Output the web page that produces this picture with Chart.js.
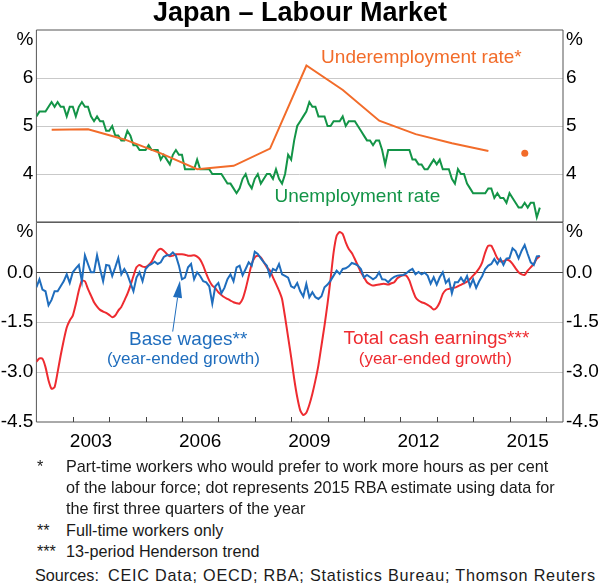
<!DOCTYPE html>
<html>
<head>
<meta charset="utf-8">
<script src="https://cdn.jsdelivr.net/npm/chart.js@4/dist/chart.umd.min.js"></script>
<style>
  body { margin:0; background:#fff; width:600px; height:585px; position:relative; overflow:hidden;
         font-family:"Liberation Sans", Arial, sans-serif; }
  #title { position:absolute; left:0; top:-3px; width:600px; text-align:center; font-weight:bold;
           font-size:27px; color:#000; }
  #c1 { position:absolute; left:0; top:0; }
  #c2 { position:absolute; left:0; top:208px; }
  .fn { position:absolute; font-size:16.2px; color:#1a1a1a; line-height:21px; white-space:nowrap; }
</style>
</head>
<body>
<canvas id="c1" width="600" height="240"></canvas>
<canvas id="c2" width="600" height="254"></canvas>
<div id="title">Japan – Labour Market</div>

<div class="fn" style="left:37px;top:456px;">*</div>
<div class="fn" style="left:66px;top:456px;">Part-time workers who would prefer to work more hours as per cent<br>of the labour force; dot represents 2015 RBA estimate using data for<br>the first three quarters of the year</div>
<div class="fn" style="left:37px;top:520px;">**</div>
<div class="fn" style="left:66px;top:520px;">Full-time workers only</div>
<div class="fn" style="left:37px;top:541px;">***</div>
<div class="fn" style="left:66px;top:541px;">13-period Henderson trend</div>
<div class="fn" style="left:35px;top:565px;">Sources:&nbsp;&nbsp;<span style="letter-spacing:0.8px;">CEIC Data; OECD; RBA; Statistics Bureau; Thomson Reuters</span></div>

<script>
// ---------------- DATA ----------------
const startYear = 2002;            // monthly series start January 2002
const unemployment = [
  5.2,5.3,5.3,5.3,5.4,5.5,5.4,5.5,5.4,5.4,5.2,5.4,
  5.4,5.2,5.4,5.5,5.4,5.4,5.2,5.1,5.2,5.1,5.1,4.9,
  4.9,5.0,4.8,4.8,4.7,4.7,4.9,4.8,4.6,4.6,4.5,4.5,
  4.5,4.6,4.5,4.5,4.5,4.3,4.4,4.3,4.2,4.4,4.5,4.4,
  4.4,4.1,4.1,4.1,4.1,4.3,4.1,4.1,4.1,4.1,4.0,4.0,
  4.0,4.0,3.9,3.8,3.8,3.7,3.6,3.7,3.9,4.0,3.8,3.7,
  3.9,4.0,3.8,3.9,4.0,4.0,3.9,4.1,3.9,3.8,4.0,4.4,
  4.3,4.7,5.0,5.1,5.2,5.3,5.5,5.4,5.4,5.2,5.2,5.2,
  5.0,5.0,5.1,5.1,5.1,5.2,5.0,5.1,5.1,5.1,5.0,4.9,
  4.8,4.7,4.7,4.6,4.7,4.7,4.5,4.2,4.5,4.5,4.5,4.5,
  4.5,4.5,4.5,4.5,4.3,4.3,4.2,4.2,4.1,4.1,4.2,4.3,
  4.2,4.3,4.1,4.1,4.1,3.9,3.8,4.1,4.0,4.0,3.8,3.7,
  3.6,3.6,3.6,3.6,3.6,3.7,3.7,3.5,3.6,3.5,3.5,3.4,
  3.6,3.5,3.4,3.3,3.3,3.4,3.3,3.4,3.4,3.1,3.3
];
const underempYears  = [2002,2003,2004,2005,2006,2007,2008,2009,2010,2011,2012,2013,2014];
const underempValues = [4.92,4.93,4.72,4.43,4.10,4.17,4.53,6.26,5.75,5.11,4.83,4.64,4.48];
const underempEstimateYear  = 2015;
const underempEstimateValue = 4.43;

const baseWages = [
  -0.45,-0.21,-0.52,-0.57,-0.99,-0.83,-0.57,-0.57,-0.42,-0.27,-0.06,-0.32,
  0.00,0.12,0.22,-0.27,0.51,0.25,0.00,0.00,0.51,0.10,-0.27,0.22,
  0.20,-0.11,0.15,0.43,-0.06,0.10,-0.06,-0.32,-0.57,-0.16,0.00,-0.27,
  0.10,0.20,0.25,0.32,0.25,0.30,0.46,0.51,0.51,0.60,0.50,0.20,
  -0.21,-0.16,0.15,0.25,-0.21,0.00,-0.11,-0.27,-0.30,-0.42,-0.94,-0.42,
  -0.32,-0.63,-0.47,-0.21,-0.06,-0.27,0.15,0.20,-0.09,0.10,0.30,0.20,
  0.62,0.55,0.42,0.30,0.20,-0.11,0.10,0.05,0.25,-0.06,-0.11,-0.16,
  -0.42,-0.47,-0.32,-0.57,-0.73,-0.35,-0.75,-0.60,-0.75,-0.80,-0.72,-0.45,
  -0.37,-0.25,-0.10,0.05,-0.05,0.10,0.12,0.18,0.28,0.25,0.20,0.10,
  -0.15,-0.08,-0.14,-0.21,-0.15,0.00,-0.21,-0.22,-0.30,-0.20,-0.14,-0.10,
  -0.09,-0.08,-0.03,0.05,0.10,-0.06,0.01,-0.06,-0.01,-0.10,-0.34,-0.15,
  -0.37,-0.15,0.00,-0.32,-0.21,-0.63,-0.30,-0.30,-0.16,-0.30,-0.11,-0.42,
  -0.21,-0.47,-0.27,-0.11,0.10,0.20,0.25,0.40,0.25,0.41,0.22,0.41,
  0.43,0.72,0.64,0.42,0.65,0.82,0.55,0.30,0.22,0.48,0.49
];
const totalCash = [
  -2.69,-2.59,-2.60,-2.85,-3.25,-3.50,-3.45,-3.00,-2.50,-2.05,-1.66,-1.45,
  -1.30,-0.95,-0.55,-0.25,-0.27,-0.50,-0.70,-0.90,-1.03,-1.13,-1.18,-1.22,
  -1.28,-1.35,-1.30,-1.15,-1.04,-0.85,-0.65,-0.40,-0.11,0.15,0.22,0.17,
  0.16,0.22,0.32,0.50,0.65,0.71,0.65,0.55,0.48,0.50,0.54,0.54,
  0.54,0.53,0.50,0.50,0.51,0.47,0.38,0.20,-0.04,-0.25,-0.40,-0.48,
  -0.60,-0.68,-0.75,-0.80,-0.85,-0.90,-0.93,-0.94,-0.80,-0.50,-0.12,0.25,
  0.45,0.50,0.45,0.30,0.15,0.05,-0.15,-0.35,-0.55,-0.80,-1.35,-1.95,
  -2.55,-3.20,-3.75,-4.15,-4.29,-4.22,-3.98,-3.65,-3.25,-2.79,-2.20,-1.60,
  -0.94,-0.20,0.60,1.10,1.21,1.15,0.90,0.70,0.58,0.40,0.20,0.00,
  -0.15,-0.30,-0.36,-0.40,-0.38,-0.37,-0.35,-0.35,-0.37,-0.33,-0.30,-0.18,
  -0.12,-0.09,-0.10,-0.25,-0.52,-0.75,-0.85,-0.90,-0.93,-0.98,-1.04,-1.12,
  -1.06,-0.90,-0.65,-0.53,-0.50,-0.47,-0.46,-0.42,-0.38,-0.33,-0.28,-0.20,
  -0.10,0.00,0.12,0.30,0.60,0.80,0.80,0.62,0.42,0.33,0.33,0.38,
  0.35,0.25,0.12,0.00,-0.06,-0.08,0.05,0.15,0.25,0.41,0.49
];

const yearLabels   = ['2003','2006','2009','2012','2015'];
const yearTickMarks = [2003,2004,2005,2006,2007,2008,2009,2010,2011,2012,2013,2014,2015,2016];
const xMin = 2002, xMax = 2016.47;
const topTicks    = [4, 5, 6];
const bottomTicks = [-4.5, -3.0, -1.5, 0.0];

// ---------------- STYLE ----------------
const GREEN = '#139447', ORANGE = '#f26c2a', BLUE = '#1f6dbd', RED = '#ee2b30';
const FONT = '"Liberation Sans", Arial, sans-serif';
Chart.defaults.font.family = FONT;
Chart.defaults.color = '#000';

const monthly = arr => arr.map((v, i) => ({ x: startYear + i / 12, y: v }));
const annual  = (yrs, vals) => yrs.map((y, i) => ({ x: y + 0.42, y: vals[i] }));

function yAxis(position, min, max, ticks, pctVal, gridFn) {
  return {
    type: 'linear', position, min, max,
    afterBuildTicks: s => { s.ticks = ticks.concat([pctVal]).map(v => ({ value: v })); },
    afterFit: s => { s.width = position === 'left' ? 36.4 : 37; },
    ticks: {
      font: { size: 19 }, color: '#000', padding: 3,
      callback: v => (v === pctVal ? '%' : (min >= 3 ? String(v) : v.toFixed(1)))
    },
    grid: { display: position === 'left', drawTicks: false, color: gridFn },
    border: { display: false }
  };
}

function framePlugin(drawTop) {
  return {
    id: 'frame',
    beforeDatasetsDraw(chart) {
      const { ctx, chartArea: a } = chart;
      ctx.save();
      ctx.strokeStyle = '#555'; ctx.lineWidth = 1;
      ctx.beginPath();
      ctx.moveTo(a.left, a.top); ctx.lineTo(a.left, a.bottom);
      ctx.moveTo(a.right, a.top); ctx.lineTo(a.right, a.bottom);
      ctx.moveTo(a.left, a.bottom); ctx.lineTo(a.right, a.bottom);
      if (drawTop) { ctx.moveTo(a.left, a.top); ctx.lineTo(a.right, a.top); }
      ctx.stroke();
      ctx.restore();
    }
  };
}

function drawText(ctx, txt, x, y, color, size) {
  ctx.font = size + 'px ' + FONT;
  ctx.fillStyle = color; ctx.textAlign = 'center'; ctx.textBaseline = 'alphabetic';
  ctx.fillText(txt, x, y);
}

// ---------------- TOP PANEL ----------------
new Chart(document.getElementById('c1'), {
  type: 'line',
  data: {
    datasets: [
      { data: annual(underempYears, underempValues), borderColor: ORANGE, borderWidth: 2,
        pointRadius: 0, order: 1 },
      { data: [{ x: underempEstimateYear + 0.42, y: underempEstimateValue }], showLine: false,
        pointRadius: 3.5, pointBackgroundColor: ORANGE, pointBorderWidth: 0, borderColor: ORANGE, order: 0 },
      { data: monthly(unemployment), borderColor: GREEN, borderWidth: 2, pointRadius: 0, order: 2 }
    ]
  },
  options: {
    responsive: false, animation: false, devicePixelRatio: 1,
    layout: { padding: { top: 30, bottom: 18, left: 0, right: 0 } },
    plugins: { legend: { display: false }, tooltip: { enabled: false } },
    scales: {
      x: { type: 'linear', min: xMin, max: xMax, display: false },
      y: yAxis('left', 3, 7, topTicks, 6.8,
               c => (topTicks.includes(c.tick.value) ? '#c9c9c9' : 'rgba(0,0,0,0)')),
      y2: yAxis('right', 3, 7, topTicks, 6.8, null)
    }
  },
  plugins: [framePlugin(true), {
    id: 'labelsTop',
    afterDatasetsDraw(chart) {
      const { ctx, scales: { x, y } } = chart;
      ctx.save();
      drawText(ctx, 'Underemployment rate*', x.getPixelForValue(2012.58), y.getPixelForValue(6.315), ORANGE, 19);
      drawText(ctx, 'Unemployment rate', x.getPixelForValue(2010.82), y.getPixelForValue(3.416), GREEN, 19);
      ctx.restore();
    }
  }]
});

// ---------------- BOTTOM PANEL ----------------
new Chart(document.getElementById('c2'), {
  type: 'line',
  data: {
    datasets: [
      { data: monthly(totalCash), borderColor: RED, borderWidth: 2, pointRadius: 0, tension: 0.2, order: 1 },
      { data: monthly(baseWages), borderColor: BLUE, borderWidth: 2, pointRadius: 0, order: 0 }
    ]
  },
  options: {
    responsive: false, animation: false, devicePixelRatio: 1,
    layout: { padding: { top: 14, bottom: 0, left: 0, right: 0 } },
    plugins: { legend: { display: false }, tooltip: { enabled: false } },
    scales: {
      x: {
        type: 'linear', min: xMin, max: xMax, position: 'bottom',
        afterBuildTicks: s => { s.ticks = yearLabels.map(l => ({ value: Number(l) + 0.5 })); },
        afterFit: s => { s.height = 40; },
        ticks: { font: { size: 19 }, color: '#000', padding: 8, autoSkip: false, maxRotation: 0,
                 callback: v => String(Math.floor(v)) },
        grid: { display: false, drawTicks: false },
        border: { display: false }
      },
      y: yAxis('left', -4.5, 1.5, bottomTicks, 1.21,
               c => (c.tick.value === 0 ? '#444' : (c.tick.value === -1.5 || c.tick.value === -3 ? '#c9c9c9' : 'rgba(0,0,0,0)'))),
      y2: yAxis('right', -4.5, 1.5, bottomTicks, 1.21, null)
    }
  },
  plugins: [framePlugin(true), {
    id: 'labelsBottom',
    afterDatasetsDraw(chart) {
      const { ctx, chartArea: a, scales: { x, y } } = chart;
      ctx.save();
      // inside year tick marks
      ctx.strokeStyle = '#444'; ctx.lineWidth = 1;
      ctx.beginPath();
      yearTickMarks.forEach(yr => {
        const px = Math.round(x.getPixelForValue(yr)) + 0.5;
        ctx.moveTo(px, a.bottom); ctx.lineTo(px, a.bottom - 5);
      });
      ctx.stroke();
      // labels
      drawText(ctx, 'Base wages**', x.getPixelForValue(2006.17), y.getPixelForValue(-2.196), BLUE, 19);
      drawText(ctx, '(year-ended growth)', x.getPixelForValue(2006.04), y.getPixelForValue(-2.753), BLUE, 17);
      drawText(ctx, 'Total cash earnings***', x.getPixelForValue(2012.99), y.getPixelForValue(-2.165), RED, 19);
      drawText(ctx, '(year-ended growth)', x.getPixelForValue(2012.96), y.getPixelForValue(-2.753), RED, 17);
      // arrow
      const x0 = x.getPixelForValue(2005.745), y0 = y.getPixelForValue(-1.782);
      const x1 = x.getPixelForValue(2005.945), y1 = y.getPixelForValue(-0.257);
      const ang = Math.atan2(y1 - y0, x1 - x0), L = 17, W = 4.5;
      const bx = x1 - L * Math.cos(ang), by = y1 - L * Math.sin(ang);
      ctx.strokeStyle = BLUE; ctx.fillStyle = BLUE; ctx.lineWidth = 1;
      ctx.beginPath(); ctx.moveTo(x0, y0); ctx.lineTo(bx, by); ctx.stroke();
      ctx.beginPath();
      ctx.moveTo(x1, y1);
      ctx.lineTo(bx + W * Math.sin(ang), by - W * Math.cos(ang));
      ctx.lineTo(bx - W * Math.sin(ang), by + W * Math.cos(ang));
      ctx.closePath(); ctx.fill();
      ctx.restore();
    }
  }]
});
</script>
</body>
</html>
